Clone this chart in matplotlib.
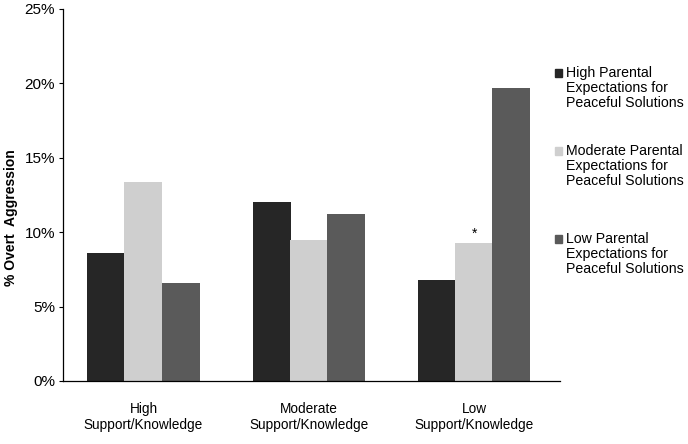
"""
Overt aggression by parental support/knowledge and parental expectations.
"""

import matplotlib.pyplot as plt
import numpy as np
from matplotlib.patches import Rectangle

plt.rcParams['font.family'] = ['Liberation Sans', 'DejaVu Sans']

# Data
groups = ['High\nSupport/Knowledge', 'Moderate\nSupport/Knowledge', 'Low\nSupport/Knowledge']
series = ['High Parental\nExpectations for\nPeaceful Solutions',
          'Moderate Parental\nExpectations for\nPeaceful Solutions',
          'Low Parental\nExpectations for\nPeaceful Solutions']
high_expect = [8.6, 12.0, 6.8]
moderate_expect = [13.4, 9.5, 9.3]
low_expect = [6.6, 11.2, 19.7]
y_ticks = [0, 5, 10, 15, 20, 25]


def main():
    """
    Draw the grouped bar chart and save it.
    :return:
    """
    fig = plt.figure(figsize=(6.88, 4.44), dpi=100)
    ax = fig.add_axes([0.092, 0.142, 0.722, 0.838])

    x = np.arange(len(groups))
    width = 0.23
    colors = ['#262626', '#cfcfcf', '#5a5a5a']
    values = [high_expect, moderate_expect, low_expect]
    offsets = [-0.225, 0, 0.225]
    for vals, off, col in zip(values, offsets, colors):
        ax.bar(x + off, vals, width, color=col, edgecolor='none', zorder=2)

    # significance marker on the low support / moderate expectations bar
    ax.text(x[2], moderate_expect[2] + 0.1, '*', ha='center', va='bottom', fontsize=10)

    ax.set_xlim(-0.485, 2.52)
    ax.set_ylim(0, 25)
    ax.set_yticks(y_ticks)
    ax.set_yticklabels(['%d%%' % t for t in y_ticks], fontsize=11)
    ax.set_xticks(x)
    ax.set_xticklabels(groups, fontsize=9.8)
    ax.tick_params(axis='x', length=0, pad=15)
    ax.tick_params(axis='y', length=3, width=0.8, pad=3)
    ax.set_ylabel('% Overt  Aggression', fontsize=10, fontweight='bold')
    ax.yaxis.set_label_coords(-0.092, 0.44)
    for s in ['top', 'right']:
        ax.spines[s].set_visible(False)
    ax.spines['left'].set_linewidth(0.9)
    ax.spines['bottom'].set_linewidth(0.9)

    # legend drawn beside the plot
    legend_tops = [0.852, 0.676, 0.478]
    for label, col, ty in zip(series, colors, legend_tops):
        fig.add_artist(Rectangle((0.806, ty - 0.026), 0.011, 0.018,
                                 transform=fig.transFigure, color=col))
        fig.text(0.822, ty, label, fontsize=10.2, va='top', ha='left', linespacing=1.1)

    fig.savefig('out.png', dpi=100)


if __name__ == '__main__':
    main()
